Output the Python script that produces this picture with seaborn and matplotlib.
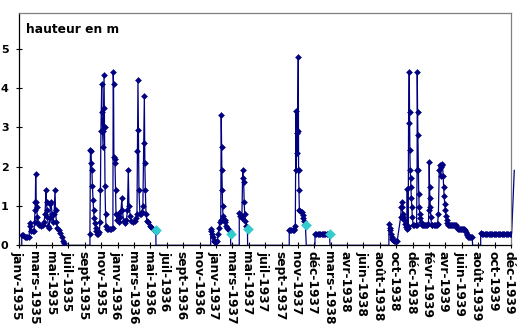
import numpy as np
import pandas as pd
import matplotlib
matplotlib.use("Agg")
import matplotlib.pyplot as plt
import matplotlib.transforms as mtrans
import seaborn as sns

sns.set_theme(style="white")
plt.rcParams["font.family"] = ["DejaVu Sans"]
plt.rcParams.update({"text.color": "black", "xtick.color": "black", "ytick.color": "black",
                     "axes.labelcolor": "black"})

# Category-axis labels (one every label step)
tick_labels = ["janv-1935", "mars-1935", "mai-1935", "juil-1935", "sept-1935", "nov-1935",
               "janv-1936", "mars-1936", "mai-1936", "juil-1936", "sept-1936", "nov-1936",
               "janv-1937", "mars-1937", "mai-1937", "juil-1937", "sept-1937", "nov-1937",
               "déc-1937", "mars-1938", "avr-1938", "juin-1938", "août-1938", "oct-1938",
               "déc-1938", "févr-1939", "avr-1939", "juin-1939", "août-1939", "oct-1939",
               "déc-1939"]

# Water height (m); position along the category axis in label steps
seg1_t = [0.15, 0.15, 0.23, 0.32, 0.41, 0.50, 0.59, 0.65, 0.68, 0.71, 0.81, 0.90, 0.93, 0.96, 0.98,
          1.00, 1.03, 1.06, 1.10, 1.15, 1.23, 1.32, 1.42, 1.51, 1.57, 1.63, 1.66, 1.69, 1.72, 1.77,
          1.81, 1.87, 1.90, 1.93, 2.00, 2.06, 2.12, 2.18, 2.21, 2.26, 2.33, 2.42, 2.51, 2.60, 2.67,
          2.73, 2.79]
seg1_h = [0.0, 0.25, 0.25, 0.22, 0.20, 0.20, 0.22, 0.56, 0.50, 0.37, 0.36, 0.37, 0.60, 0.89, 1.10,
          1.82, 1.10, 0.97, 0.72, 0.56, 0.52, 0.50, 0.52, 0.60, 0.80, 1.40, 1.10, 0.90, 0.72, 0.50,
          0.45, 0.70, 1.05, 1.10, 0.80, 0.60, 0.80, 1.40, 0.90, 0.60, 0.45, 0.38, 0.32, 0.22, 0.12,
          0.05, 0.0]

seg2_t = [4.31, 4.31, 4.34, 4.37, 4.40, 4.43, 4.46, 4.50, 4.53, 4.56, 4.59, 4.65, 4.71, 4.77, 4.83,
          4.89, 4.92, 4.95, 4.98, 5.03, 5.04, 5.08, 5.11, 5.14, 5.17, 5.20, 5.23, 5.26, 5.29, 5.35,
          5.44, 5.53, 5.62, 5.71, 5.73, 5.75, 5.77, 5.81, 5.84, 5.87, 5.90, 5.96, 6.02, 6.08, 6.14,
          6.20, 6.26, 6.29, 6.36, 6.45, 6.54, 6.60, 6.65, 6.69, 6.77, 6.84, 6.94, 7.03, 7.12, 7.18,
          7.21, 7.24, 7.27, 7.30, 7.36, 7.42, 7.48, 7.54, 7.59, 7.63, 7.66, 7.69, 7.73, 7.79, 7.88,
          7.97, 8.06, 8.16, 8.25, 8.33, 8.34]
seg2_h = [0.0, 0.30, 2.42, 2.40, 2.10, 1.91, 1.50, 1.15, 0.90, 0.70, 0.56, 0.45, 0.36, 0.30, 0.30,
          0.35, 0.60, 1.40, 2.90, 4.10, 3.40, 2.90, 2.50, 3.50, 4.33, 3.00, 1.50, 0.80, 0.50, 0.42,
          0.42, 0.42, 0.42, 0.45, 4.41, 4.10, 2.25, 2.20, 2.10, 1.40, 0.80, 0.65, 0.80, 0.60, 0.72,
          0.88, 1.20, 0.90, 0.62, 0.56, 0.65, 0.90, 1.91, 1.00, 0.75, 0.62, 0.60, 0.62, 0.70, 0.80,
          2.40, 4.20, 2.93, 1.40, 0.80, 0.80, 0.85, 1.00, 2.60, 3.80, 2.10, 1.40, 0.80, 0.62, 0.58,
          0.50, 0.46, 0.42, 0.38, 0.34, 0.0]

seg3_t = [11.68, 11.68, 11.71, 11.75, 11.80, 11.85, 11.91, 11.97, 12.03, 12.09, 12.14, 12.18, 12.24,
          12.29, 12.32, 12.34, 12.36, 12.38, 12.40, 12.43, 12.46, 12.52, 12.58, 12.64, 12.70, 12.76,
          12.82, 12.88, 12.90]
seg3_h = [0.0, 0.42, 0.36, 0.30, 0.20, 0.12, 0.09, 0.09, 0.09, 0.12, 0.30, 0.45, 0.60,
          0.64, 3.31, 2.50, 1.91, 1.40, 1.00, 0.75, 0.64, 0.64, 0.58, 0.50, 0.45, 0.42,
          0.38, 0.36, 0.0]

seg4_t = [13.42, 13.42, 13.46, 13.52, 13.58, 13.63, 13.66, 13.69, 13.72, 13.75, 13.80, 13.85, 13.92, 13.93]
seg4_h = [0.0, 0.81, 0.75, 0.75, 0.70, 1.91, 1.70, 1.60, 1.10, 0.80, 0.62, 0.50, 0.42, 0.0]

seg5_t = [16.47, 16.47, 16.54, 16.60, 16.67, 16.73, 16.79, 16.84, 16.88, 16.90, 16.93, 16.95, 16.98,
          17.02, 17.04, 17.06, 17.09, 17.15, 17.22, 17.28, 17.32, 17.39, 17.45, 17.51]
seg5_h = [0.0, 0.40, 0.40, 0.40, 0.40, 0.40, 0.42, 0.50, 3.42, 1.91, 2.85, 2.35, 2.90,
          4.80, 1.91, 1.40, 0.89, 0.87, 0.85, 0.77, 0.69, 0.62, 0.55, 0.0]

seg6_t = [18.04, 18.04, 18.12, 18.20, 18.28, 18.36, 18.44, 18.52, 18.60, 18.68, 18.76, 18.84, 18.92,
          18.96]
seg6_h = [0.0, 0.30, 0.30, 0.30, 0.30, 0.30, 0.30, 0.30, 0.30, 0.30, 0.30, 0.30, 0.30, 0.0]

seg7_t = [22.55, 22.55, 22.59, 22.63, 22.67, 22.71, 22.76, 22.82, 22.89, 22.95, 23.01, 23.06, 23.27,
          23.30, 23.33, 23.36, 23.39, 23.42, 23.47, 23.53, 23.59, 23.65, 23.67, 23.69, 23.73, 23.75,
          23.79, 23.81, 23.83, 23.85, 23.87, 23.89, 23.92, 23.95, 23.98, 24.03, 24.11, 24.18, 24.24,
          24.27, 24.28, 24.30, 24.32, 24.35, 24.37, 24.40, 24.43, 24.47, 24.53, 24.60, 24.66, 24.72,
          24.78, 24.84, 24.90, 24.96, 24.99, 25.01, 25.03, 25.05, 25.08, 25.11, 25.15, 25.21, 25.28,
          25.34, 25.40, 25.46, 25.52, 25.57, 25.62, 25.66, 25.71, 25.74, 25.78, 25.82, 25.86, 25.89,
          25.92, 25.96, 25.99, 26.03, 26.07, 26.12, 26.18, 26.24, 26.30, 26.36, 26.43, 26.49, 26.55,
          26.61, 26.67, 26.73, 26.79, 26.85, 26.91, 26.97, 27.03, 27.10, 27.16, 27.21, 27.25, 27.30,
          27.34, 27.39, 27.45, 27.51, 27.57, 27.63, 27.66]
seg7_h = [0.0, 0.53, 0.45, 0.38, 0.30, 0.20, 0.15, 0.13, 0.11, 0.10, 0.10, 0.12, 0.72,
          0.97, 1.10, 0.97, 0.80, 0.72, 0.65, 0.55, 0.47, 0.42, 1.44, 0.45, 0.50, 3.10,
          4.41, 3.39, 2.42, 1.91, 1.70, 1.48, 1.20, 0.97, 0.72, 0.51, 0.51, 0.51, 0.51,
          1.91, 4.41, 3.39, 2.80, 1.91, 1.30, 0.97, 0.80, 0.70, 0.60, 0.51, 0.51, 0.51,
          0.51, 0.51, 0.51, 0.55, 0.90, 2.12, 1.48, 1.20, 0.97, 0.72, 0.51, 0.51, 0.51,
          0.51, 0.51, 0.51, 0.55, 0.80, 1.91, 2.04, 1.75, 2.00, 2.04, 2.08, 1.75, 1.48,
          1.25, 1.05, 0.90, 0.75, 0.64, 0.56, 0.51, 0.51, 0.51, 0.51, 0.51, 0.51, 0.51,
          0.51, 0.51, 0.45, 0.42, 0.42, 0.42, 0.42, 0.42, 0.42, 0.42, 0.38, 0.34, 0.30,
          0.25, 0.21, 0.21, 0.21, 0.21, 0.21, 0.0]

seg8_t = [28.15, 28.15, 28.23, 28.31, 28.39, 28.47, 28.55, 28.63, 28.71, 28.79, 28.87, 28.95, 29.03,
          29.11, 29.19, 29.27, 29.35, 29.43, 29.51, 29.59, 29.67, 29.75, 29.83, 29.91, 29.99, 30.04,
          30.20]
seg8_h = [0.0, 0.31, 0.30, 0.30, 0.30, 0.30, 0.30, 0.30, 0.30, 0.30, 0.30, 0.30, 0.30,
          0.30, 0.30, 0.30, 0.30, 0.30, 0.30, 0.30, 0.30, 0.30, 0.30, 0.30, 0.30, 0.30,
          1.91]

# Second series (turquoise points)
cyan_t = [8.34, 12.91, 13.93, 17.51, 18.96]
cyan_h = [0.38, 0.30, 0.41, 0.51, 0.30]

t_all = seg1_t + seg2_t + seg3_t + seg4_t + seg5_t + seg6_t + seg7_t + seg8_t
h_all = seg1_h + seg2_h + seg3_h + seg4_h + seg5_h + seg6_h + seg7_h + seg8_h
df = pd.DataFrame({"t": t_all, "h": h_all})
mk = df[(df["h"] > 0)].iloc[:-1]
cy = pd.DataFrame({"t": cyan_t, "h": cyan_h})

navy = "#000080"
fig = plt.figure(figsize=(5.24, 3.30), dpi=100)
ax = fig.add_axes([19.3 / 524, 1 - 245.3 / 330, (511 - 19.3) / 524, (245.3 - 13.3) / 330])

sns.lineplot(data=df, x="t", y="h", sort=False, estimator=None, color=navy,
             linewidth=0.9, ax=ax, clip_on=False, zorder=2)
sns.scatterplot(data=mk, x="t", y="h", marker="D", s=9, color=navy, edgecolor=navy,
                linewidth=0.4, ax=ax, zorder=3)
sns.scatterplot(data=cy, x="t", y="h", marker="D", s=26, color="#33CCCC", edgecolor="#33CCCC",
                linewidth=0.3, ax=ax, zorder=4)

ax.set_xlim(0, 30)
ax.set_ylim(0, 5.9)
ax.set_xticks(range(len(tick_labels)))
ax.set_xticklabels(tick_labels, rotation=-90, fontsize=8.8, fontweight="bold", ha="center",
                   va="top", color="black")
ax.set_yticks([0, 1, 2, 3, 4, 5])
ax.set_yticklabels(["0", "1", "2", "3", "4", "5"], fontsize=8, fontweight="bold", color="black")
ax.tick_params(axis="both", direction="inout", length=5, width=0.8, color="black",
               bottom=True, left=True)
ax.tick_params(axis="x", pad=1.5)
ax.tick_params(axis="y", pad=5.2)
shift = mtrans.ScaledTranslation(-2 / 100, 0, fig.dpi_scale_trans)
for lab in ax.get_xticklabels():
    lab.set_transform(lab.get_transform() + shift)
ax.set_xlabel("")
ax.set_ylabel("")
for s in ["left", "bottom"]:
    ax.spines[s].set_color("black")
    ax.spines[s].set_linewidth(0.9)
for s in ["top", "right"]:
    ax.spines[s].set_color("#808080")
    ax.spines[s].set_linewidth(0.9)
ax.text(0.0136, 0.915, "hauteur en m", transform=ax.transAxes, fontsize=8.8,
        fontweight="bold", ha="left", va="baseline", color="black")

fig.savefig("out.png", dpi=100)
